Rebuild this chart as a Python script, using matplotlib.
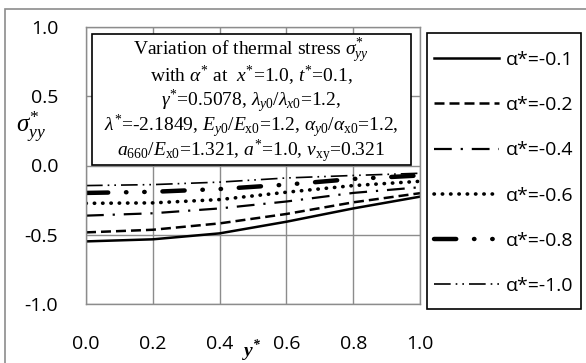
import matplotlib
matplotlib.use("Agg")
import matplotlib.pyplot as plt
from matplotlib.patches import Rectangle

plt.rcParams['mathtext.fontset'] = 'custom'
plt.rcParams['mathtext.rm'] = 'Liberation Serif'
plt.rcParams['mathtext.it'] = 'Liberation Serif:italic'
plt.rcParams['mathtext.bf'] = 'Liberation Serif:bold:italic'

y_star = [0.0, 0.2, 0.4, 0.6, 0.8, 1.0]
labels = ["α*=-0.1", "α*=-0.2", "α*=-0.4", "α*=-0.6", "α*=-0.8", "α*=-1.0"]
s_01 = [-0.548, -0.533, -0.490, -0.406, -0.310, -0.225]
s_02 = [-0.483, -0.464, -0.418, -0.350, -0.266, -0.200]
s_04 = [-0.362, -0.345, -0.310, -0.260, -0.198, -0.157]
s_06 = [-0.273, -0.270, -0.246, -0.193, -0.145, -0.114]
s_08 = [-0.198, -0.190, -0.170, -0.138, -0.097, -0.072]
s_10 = [-0.145, -0.138, -0.120, -0.090, -0.072, -0.056]
series = [s_01, s_02, s_04, s_06, s_08, s_10]

styles = [
    dict(ls='-', lw=1.8),
    dict(ls=(0, (4, 2)), lw=1.8),
    dict(ls=(0, (8, 4, 1, 4)), lw=1.6),
    dict(ls=(0, (0.1, 2.2)), lw=2.6, dash_capstyle='round'),
    dict(ls=(0, (5, 4, 0.1, 4, 0.1, 4)), lw=3.2, dash_capstyle='round'),
    dict(ls=(0, (10, 3, 1, 3, 1, 3)), lw=1.2),
]

W, H = 586, 363
fig = plt.figure(figsize=(W / 100, H / 100), dpi=100)
fig.patches.append(Rectangle((5 / W, -0.1), 1.2, 1 - 9 / H + 0.1, transform=fig.transFigure,
                             fill=False, edgecolor='#8c8c8c', lw=1.2))

ax = fig.add_axes([86 / W, 1 - 304 / H, (420 - 86) / W, (304 - 27) / H])
for vals, lab, st in zip(series, labels, styles):
    ax.plot(y_star, vals, color='black', label=lab, **st)

tick_font = 'Open Sans'
fs = 14
ax.set_xlim(0, 1.0)
ax.set_ylim(-1.0, 1.0)
ax.set_xticks([0.0, 0.2, 0.4, 0.6, 0.8, 1.0])
ax.set_yticks([-1.0, -0.5, 0.0, 0.5, 1.0])
ax.set_xticklabels(["%.1f" % v for v in ax.get_xticks()], fontfamily=tick_font, fontsize=fs)
ax.set_yticklabels(["%.1f" % v for v in ax.get_yticks()], fontfamily=tick_font, fontsize=fs)
ax.tick_params(length=0, pad=0)
ax.tick_params(axis='y', pad=20)
ax.tick_params(axis='x', pad=22)
ax.grid(True, color='#8c8c8c', lw=1)
for sp in ax.spines.values():
    sp.set_color('#8c8c8c')
    sp.set_linewidth(1)
ax.set_axisbelow(True)

fig.text(31 / W, 1 - 127 / H, r"$\sigma^{*}_{yy}$", fontsize=18, ha='center', va='center')
fig.text(252 / W, 1 - 351 / H, r"$\mathbf{y^{*}}$", fontsize=14, ha='center', va='center')

# annotation box
fig.patches.append(Rectangle((92 / W, 1 - 165 / H), (411 - 92) / W, (165 - 34) / H,
                             transform=fig.transFigure, facecolor='white', edgecolor='black', lw=1.2))
box_lines = [
    r"Variation of thermal stress $\sigma^{*}_{yy}$",
    r"with $\alpha^{*}$ at  $x^{*}$=1.0, $t^{*}$=0.1,",
    r"$\gamma^{*}$=0.5078, $\lambda_{y0}$/$\lambda_{x0}$=1.2,",
    r"$\lambda^{*}$=-2.1849, $E_{y0}$/$E_{\rm x0}$=1.2, $\alpha_{y0}$/$\alpha_{\rm x0}$=1.2,",
    r"$a_{660}$/$E_{\rm x0}$=1.321, $a^{*}$=1.0, $\nu_{\rm xy}$=0.321",
]
for i, t in enumerate(box_lines):
    fig.text(251 / W, 1 - (51 + 25 * i) / H, t, fontfamily='Liberation Serif', fontsize=14,
             ha='center', va='center')

# legend: own frame, entries placed inside it
fig.patches.append(Rectangle((427 / W, 1 - 309 / H), (581 - 427) / W, (309 - 33) / H,
                             transform=fig.transFigure, fill=False, edgecolor='black', lw=1.2))
handles, labs = ax.get_legend_handles_labels()
fpx = fs * 100 / 72
fig.legend(handles, labs, loc='upper left', bbox_to_anchor=(434 / W, 1 - 51 / H),
           prop={'family': tick_font, 'size': fs}, frameon=False, borderaxespad=0, borderpad=0,
           handlelength=65 / fpx, handletextpad=7 / fpx, labelspacing=1.4)

fig.savefig("out.png", dpi=100)
